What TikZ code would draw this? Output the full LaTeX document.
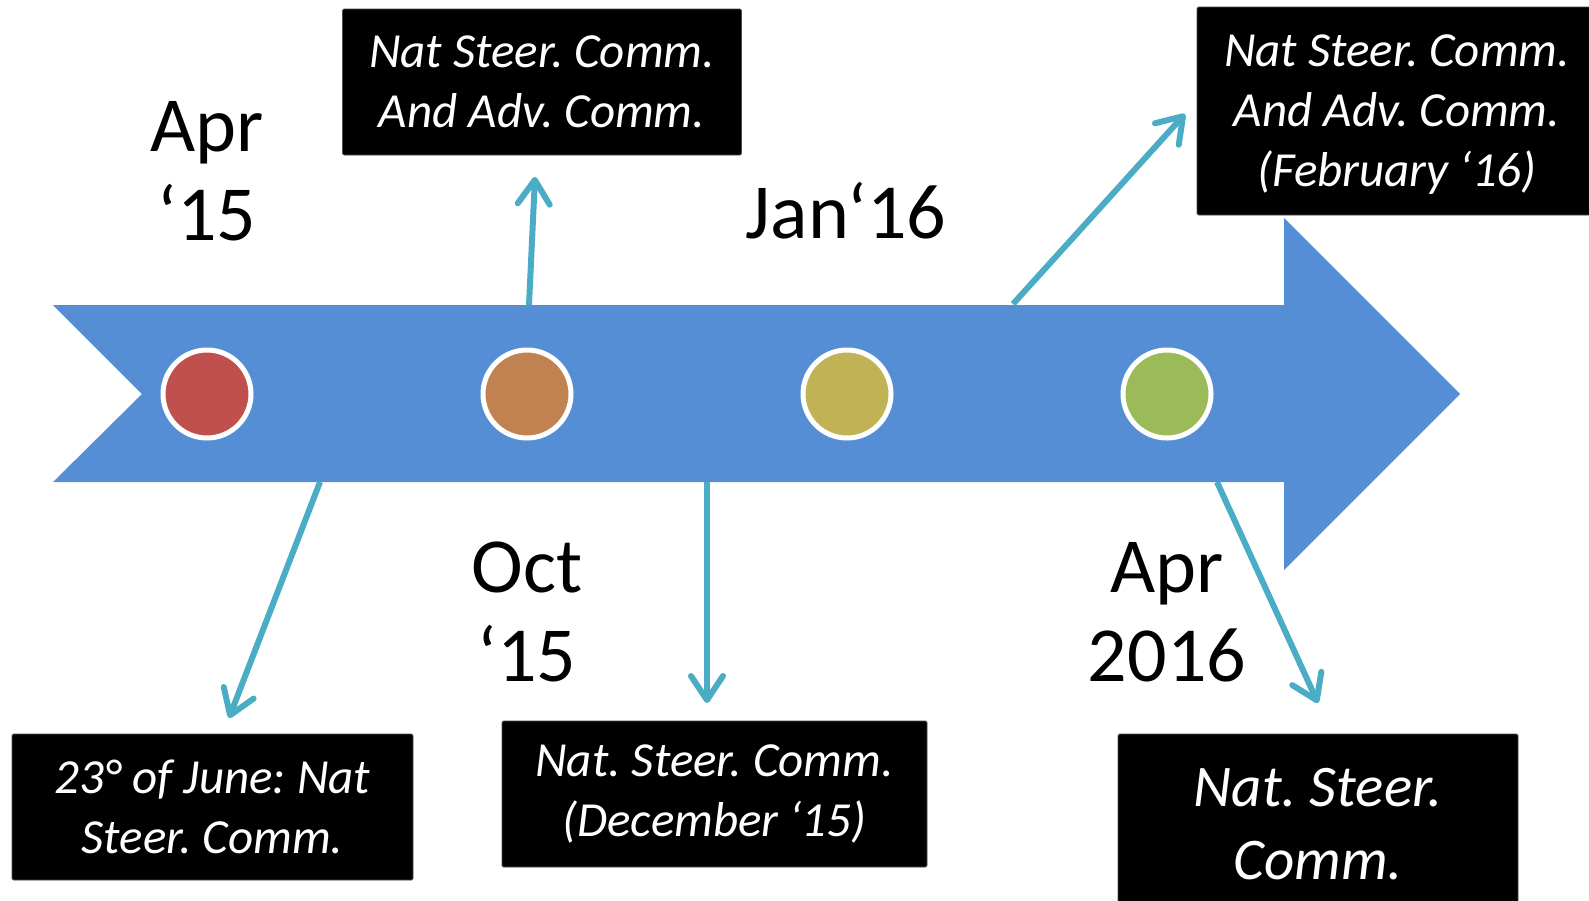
\documentclass[tikz,border=0pt]{standalone}
\usepackage{fontspec}
\setmainfont{Carlito}
\frenchspacing
\usetikzlibrary{arrows.meta}
\definecolor{barblue}{HTML}{558ED5}
\definecolor{conncol}{HTML}{4BACC6}
\definecolor{dotred}{HTML}{C0504D}
\definecolor{dotorange}{HTML}{BF8250}
\definecolor{dotolive}{HTML}{C0B255}
\definecolor{dotgreen}{HTML}{9BBB59}
\tikzset{
  dot/.style={circle, draw=white, line width=5pt, minimum size=88pt, inner sep=0pt},
  infobox/.style={fill=black, draw=black!70, line width=0.8pt, rounded corners=1.5pt, text=white, align=center, inner sep=0pt,
    font=\fontsize{49}{60}\selectfont\itshape},
  datelabel/.style={text=black, align=center, inner sep=0pt, font=\fontsize{78}{89}\selectfont},
  conn/.style={draw=conncol, line width=6pt, -{Straight Barb[length=24pt, width=32pt, line cap=round, round]}}
}
\begin{document}
\begin{tikzpicture}[x=1pt,y=-1pt]
\useasboundingbox (0,0) rectangle (1589,900);
% main timeline arrow
\fill[barblue] (53,305) -- (1284,305) -- (1284,218) -- (1460,394) -- (1284,570) -- (1284,482) -- (53,482) -- (142,394) -- cycle;
% dots
\node[dot, fill=dotred] (d1) at (207,394) {};
\node[dot, fill=dotorange] (d2) at (527,394) {};
\node[dot, fill=dotolive] (d3) at (847,394) {};
\node[dot, fill=dotgreen] (d4) at (1167,394) {};
% date labels
\node[datelabel] (l1) at (207,171) {Apr\\‘15};
\node[datelabel, anchor=base] (l2) at (846,238) {Jan‘16};
\node[datelabel] (l3) at (527,612) {Oct\\‘15};
\node[datelabel] (l4) at (1167,612) {Apr\\2016};
% boxes
\node[infobox, minimum width=399pt, minimum height=146pt] (b1) at (542,82) {Nat Steer. Comm.\\And Adv. Comm.};
\node[infobox, minimum width=400pt, minimum height=208pt] (b2) at (1397,111) {};
\node[text=white, align=center, inner sep=0pt, font=\fontsize{49}{60}\selectfont\itshape] (t2) at (1397,115) {Nat Steer. Comm.\\And Adv. Comm.\\(February ‘16)};
\node[infobox, minimum width=401pt, minimum height=146pt] (b3) at (212.5,807) {23° of June: Nat\\Steer. Comm.};
\node[infobox, minimum width=425pt, minimum height=146pt] (b4) at (714.5,794) {Nat. Steer. Comm.\\(December ‘15)};
\node[infobox, minimum width=400pt, minimum height=180pt, font=\fontsize{59}{73}\selectfont\itshape] (b5) at (1318,824) {Nat. Steer.\\Comm.};
% connector end points
\coordinate (s1) at (320,482); \coordinate (e1) at (229,718);
\coordinate (s2) at (529,305); \coordinate (e2) at (535,177);
\coordinate (s3) at (707,482); \coordinate (e3) at (707,703);
\coordinate (s4) at (1013,304); \coordinate (e4) at (1185,114);
\coordinate (s5) at (1217,482); \coordinate (e5) at (1318,703);
\draw[conn] (s1) -- (e1);
\draw[conn] (s2) -- (e2);
\draw[conn] (s3) -- (e3);
\draw[conn] (s4) -- (e4);
\draw[conn] (s5) -- (e5);
\end{tikzpicture}
\end{document}
